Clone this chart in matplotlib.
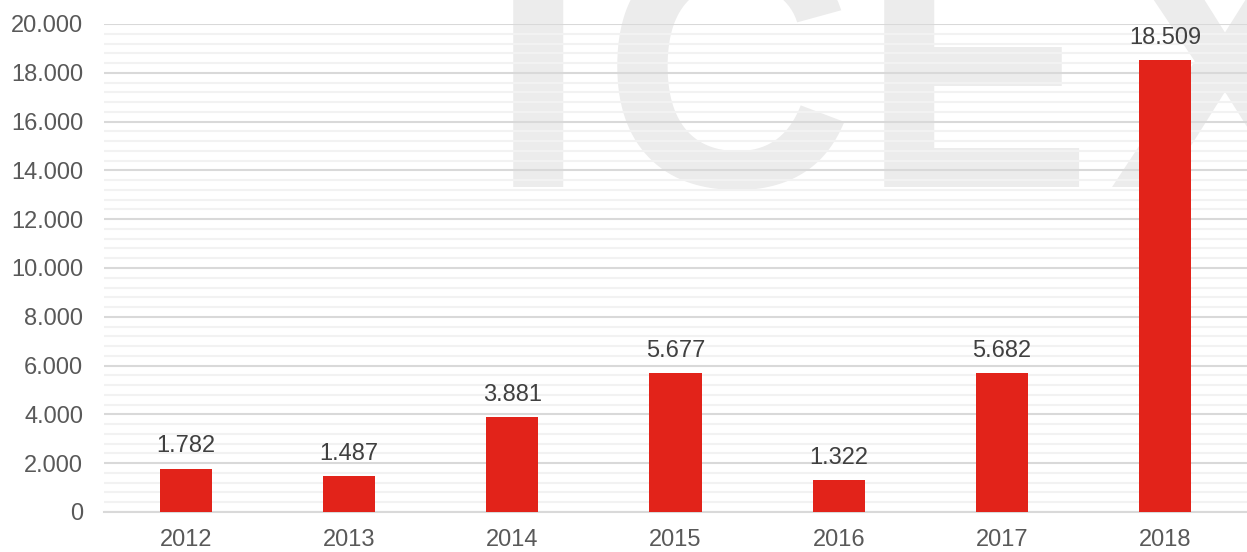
import matplotlib
matplotlib.use("Agg")
import matplotlib.pyplot as plt
from matplotlib.ticker import MultipleLocator, FuncFormatter

years = ["2012", "2013", "2014", "2015", "2016", "2017", "2018"]
values = [1782, 1487, 3881, 5677, 1322, 5682, 18509]
labels = ["1.782", "1.487", "3.881", "5.677", "1.322", "5.682", "18.509"]

plt.rcParams['font.family'] = ['Liberation Sans', 'DejaVu Sans']

fig = plt.figure(figsize=(12.47, 5.52), dpi=100)
ax = fig.add_axes([104/1247, 40/552, 1143/1247, 488/552])
ax.set_facecolor('none')

# watermark letters (logo), drawn behind the axes
wm_letters = ["I", "C", "E", "X"]
wm_centers = [538, 728, 977, 1225]
for ch, cx in zip(wm_letters, wm_centers):
    fig.text(cx/1247, (552-187)/552, ch, fontsize=250, fontweight='bold',
             color='#ececec', ha='center', va='baseline', zorder=-5)

x = range(len(years))
ax.bar(x, values, width=0.32, color='#E2231A', zorder=3)
for xi, v, lab in zip(x, values, labels):
    ax.annotate(lab, (xi, v), xytext=(0, 8), textcoords='offset points',
                ha='center', va='bottom', fontsize=17, color='#404040')

ax.set_xlim(-0.5, len(years) - 0.5)
ax.set_ylim(0, 20000)
ax.yaxis.set_major_locator(MultipleLocator(2000))
ax.yaxis.set_minor_locator(MultipleLocator(400))
ax.yaxis.set_major_formatter(FuncFormatter(lambda v, p: f"{int(v):,}".replace(",", ".")))
ax.grid(axis='y', which='major', color='#d9d9d9', linewidth=1.5, zorder=0)
ax.grid(axis='y', which='minor', color='#f2f2f2', linewidth=1.5, zorder=0)
ax.set_axisbelow(True)
ax.set_xticks(list(x))
ax.set_xticklabels(years)
ax.tick_params(axis='both', which='both', length=0, labelsize=17, colors='#595959')
ax.tick_params(axis='y', pad=15)
ax.tick_params(axis='x', pad=12)
for s in ['top', 'right', 'left']:
    ax.spines[s].set_visible(False)
ax.spines['bottom'].set_color('#d9d9d9')
ax.spines['bottom'].set_linewidth(1.5)

fig.savefig("out.png", dpi=100)
